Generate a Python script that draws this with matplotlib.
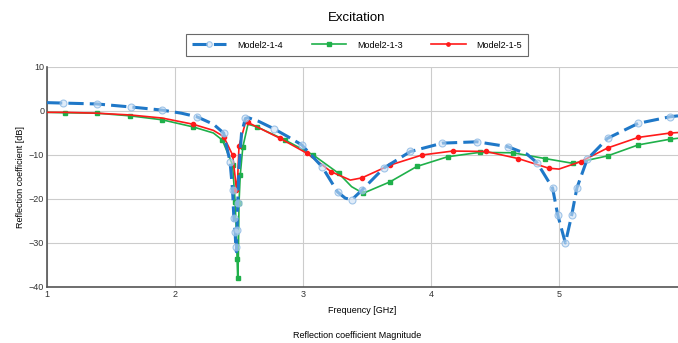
import matplotlib
matplotlib.use("Agg")
import matplotlib.pyplot as plt

plt.rcParams['font.family'] = ['Liberation Sans', 'DejaVu Sans']

# Model2-1-4 (blue dashed)
f_blue = [1.0, 1.125, 1.39, 1.66, 1.9, 2.05, 2.17, 2.3, 2.38, 2.43, 2.45, 2.46, 2.47, 2.475, 2.48,
          2.485, 2.49, 2.50, 2.52, 2.55, 2.57, 2.65, 2.77, 2.88, 2.99, 3.15, 3.27, 3.33, 3.38,
          3.46, 3.63, 3.84, 4.09, 4.36, 4.6, 4.75, 4.83, 4.95, 4.99, 5.05, 5.1, 5.14, 5.22,
          5.38, 5.62, 5.87, 5.93]
s_blue = [1.9, 1.8, 1.6, 0.9, 0.2, -0.5, -1.3, -3.0, -5.0, -11.5, -18.0, -24.4, -27.5, -31.0, -32.0,
          -27.0, -21.0, -13.0, -5.0, -1.7, -1.5, -2.3, -4.0, -5.8, -7.7, -12.7, -18.4, -19.8, -20.2,
          -18.0, -13.0, -9.2, -7.3, -7.0, -8.1, -9.8, -11.8, -17.5, -23.6, -30.0, -23.6, -17.5, -11.0,
          -6.2, -2.8, -1.3, -1.1]
mk_blue = [1, 2, 3, 4, 6, 8, 9, 10, 11, 12, 13, 15, 16, 19, 22, 24, 25, 26, 28, 29, 30, 31,
           32, 33, 34, 36, 37, 38, 39, 40, 41, 42, 43, 44, 45]

# Model2-1-3 (green)
f_green = [1.0, 1.14, 1.39, 1.65, 1.9, 2.14, 2.3, 2.37, 2.45, 2.47, 2.48, 2.485, 2.49, 2.495,
           2.50, 2.51, 2.53, 2.57, 2.64, 2.86, 3.08, 3.28, 3.38, 3.47, 3.68, 3.89, 4.13, 4.38,
           4.64, 4.89, 5.11, 5.38, 5.62, 5.87, 5.93]
s_green = [-0.3, -0.4, -0.5, -1.1, -2.0, -3.6, -5.0, -6.6, -12.3, -20.7, -28.0, -33.6, -38.0, -33.6,
           -21.0, -14.5, -8.2, -3.0, -3.6, -6.6, -10.0, -14.2, -17.2, -18.7, -16.1, -12.6, -10.4, -9.4,
           -9.5, -10.8, -11.9, -10.2, -7.7, -6.4, -6.2]
mk_green = [1, 2, 3, 4, 5, 7, 8, 9, 11, 12, 14, 15, 16, 18, 19, 20, 21, 23, 24, 25, 26, 27,
            28, 29, 30, 31, 32, 33]

# Model2-1-5 (red)
f_red = [1.0, 1.14, 1.39, 1.65, 1.9, 2.14, 2.3, 2.38, 2.45, 2.47, 2.48, 2.49, 2.50, 2.55,
         2.57, 2.82, 3.03, 3.22, 3.37, 3.46, 3.68, 3.93, 4.17, 4.43, 4.68, 4.92, 5.0, 5.17,
         5.38, 5.62, 5.87, 5.93]
s_red = [-0.3, -0.3, -0.5, -0.9, -1.6, -3.0, -4.4, -5.8, -10.0, -15.0, -18.0, -15.0, -8.0, -2.7,
         -2.6, -6.2, -9.6, -13.8, -15.7, -15.2, -12.3, -10.0, -9.1, -9.2, -10.8, -13.0, -13.2, -11.5,
         -8.4, -6.0, -5.0, -4.9]
mk_red = [5, 7, 8, 10, 12, 14, 15, 16, 17, 19, 20, 21, 22, 23, 24, 25, 27, 28, 29, 30]

fig = plt.figure(figsize=(6.78, 3.43), dpi=100)
ax = fig.add_axes([47 / 678, 56 / 343, 631 / 678, 220 / 343])

ax.plot(f_green, s_green, color='#1fb04a', lw=1.2, marker='s', ms=3.0,
        markevery=mk_green, label='Model2-1-3', zorder=3)
ax.plot(f_red, s_red, color='#ff1a1a', lw=1.2, marker='o', ms=3.0,
        markevery=mk_red, label='Model2-1-5', zorder=4)
ax.plot(f_blue, s_blue, color='#1f78c8', lw=2.2, ls=(0, (5, 2)), marker='o', ms=5,
        mfc=(0.80, 0.88, 0.96, 0.6), mec=(0.55, 0.72, 0.89, 0.8), mew=0.8,
        markevery=mk_blue, label='Model2-1-4', zorder=5)

ax.set_xlim(1, 5.93)
ax.set_ylim(-40, 10)
ax.set_xticks([1, 2, 3, 4, 5])
ax.set_yticks([-40, -30, -20, -10, 0, 10])
ax.tick_params(labelsize=6.5, length=0, pad=2, colors='#333333')
ax.grid(True, color='#cccccc', lw=0.8)
for side in ['top', 'right']:
    ax.spines[side].set_visible(False)
for side in ['left', 'bottom']:
    ax.spines[side].set_color('#555555')
    ax.spines[side].set_linewidth(1.2)

ax.set_xlabel('Frequency [GHz]', fontsize=6.5, labelpad=5)
ax.set_ylabel('Reflection coefficient [dB]', fontsize=6.5, labelpad=3)

fig.text(357 / 678, 1 - 18 / 343, 'Excitation', ha='center', va='center', fontsize=9.5)
fig.text(357 / 678, 1 - 335 / 343, 'Reflection coefficient Magnitude', ha='center',
         va='center', fontsize=6.5)

h, l = ax.get_legend_handles_labels()
order = [2, 0, 1]
leg = fig.legend([h[i] for i in order], [l[i] for i in order], loc='center',
                 bbox_to_anchor=(357 / 678, 1 - 45 / 343), ncol=3, fontsize=6.5,
                 frameon=True, fancybox=False, edgecolor='#444444', handlelength=3.8,
                 handletextpad=1.2, columnspacing=3.2, borderpad=0.7, markerscale=0.8)
leg.get_frame().set_linewidth(0.8)

fig.savefig('out.png', dpi=100)
